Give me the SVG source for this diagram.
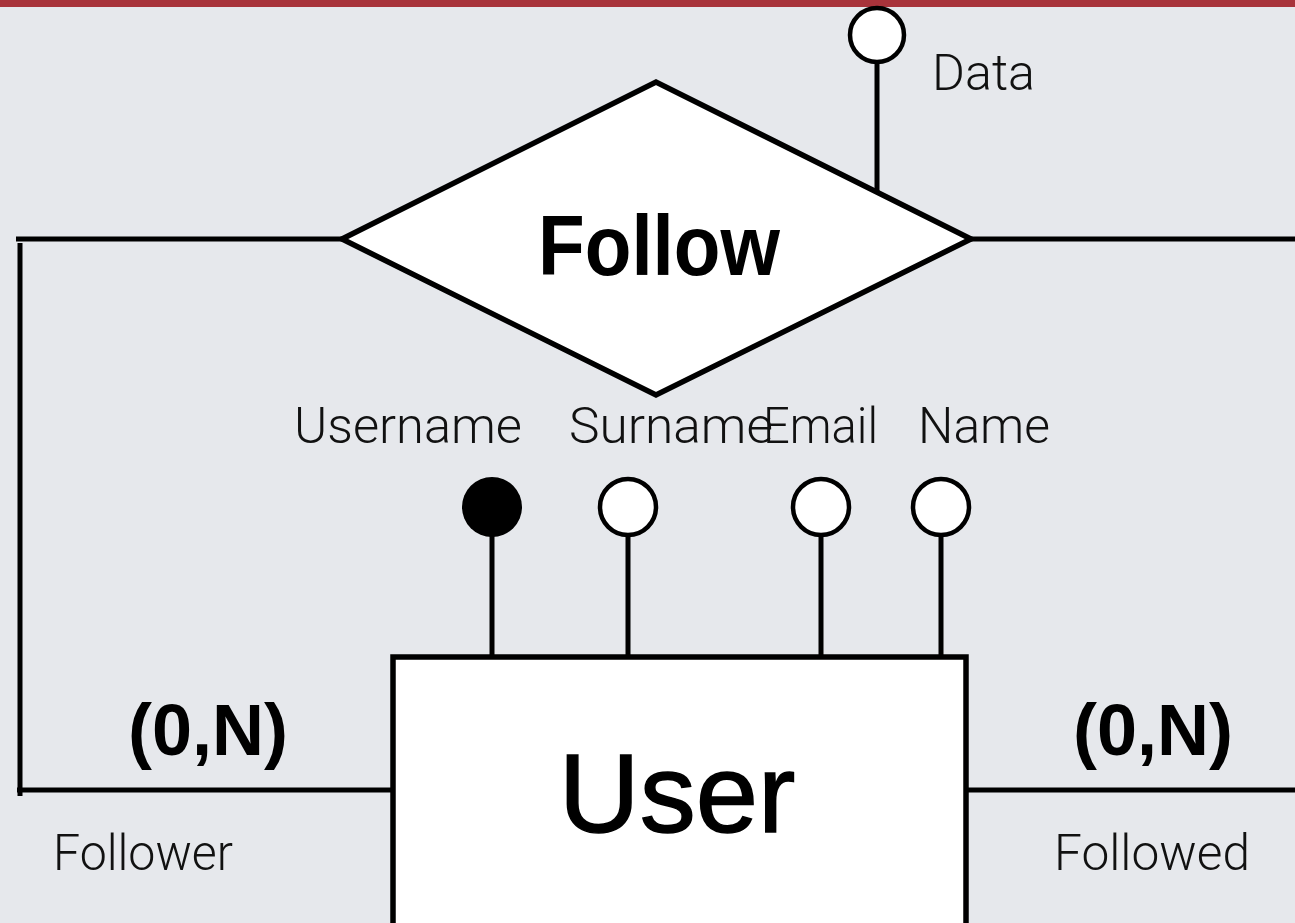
<svg xmlns="http://www.w3.org/2000/svg" width="1295" height="923" viewBox="0 0 1295 923">
  <style>
    .ln { stroke: #000; stroke-width: 5; fill: none; }
    .shape { stroke: #000; stroke-width: 5.5; fill: #fff; }
    .attr { stroke: #000; stroke-width: 4.5; fill: #fff; }
    .key { fill: #000; }
    .thin { font-family: Roboto, "Open Sans", "Liberation Sans", sans-serif; font-weight: 300; font-size: 50px; fill: #111; }
    .title { font-family: "Liberation Sans", Arial, sans-serif; fill: #000; }
    .card { font-family: "Liberation Sans", Arial, sans-serif; font-weight: bold; font-size: 72px; fill: #000; }
  </style>

  <!-- backdrop and top band -->
  <rect x="0" y="0" width="1295" height="923" fill="#e6e8ec"/>
  <rect x="0" y="0" width="1295" height="7" fill="#a8333b"/>

  <!-- connectors -->
  <g id="connectors">
    <!-- Follower role: relationship left corner to User left side -->
    <line class="ln" x1="16" y1="239" x2="343" y2="239"/>
    <line class="ln" x1="20" y1="243" x2="20" y2="796"/>
    <line class="ln" x1="17" y1="790" x2="396" y2="790"/>
    <!-- Followed role: relationship right corner to User right side -->
    <line class="ln" x1="969" y1="239" x2="1295" y2="239"/>
    <line class="ln" x1="968" y1="790" x2="1295" y2="790"/>
    <!-- attribute stems -->
    <line class="ln" x1="877" y1="62" x2="877" y2="191"/>
    <line class="ln" x1="492" y1="535" x2="492" y2="662"/>
    <line class="ln" x1="628" y1="535" x2="628" y2="662"/>
    <line class="ln" x1="821" y1="535" x2="821" y2="662"/>
    <line class="ln" x1="941" y1="535" x2="941" y2="662"/>
  </g>

  <!-- relationship: Follow -->
  <g id="follow">
    <polygon class="shape" points="342,239 656,82 971,239 656,395"/>
    <text class="title" x="659" y="275" font-size="86" font-weight="bold" text-anchor="middle" textLength="242" lengthAdjust="spacingAndGlyphs">Follow</text>
  </g>

  <!-- attribute of Follow: Data -->
  <g id="attr-data">
    <circle class="attr" cx="877" cy="35" r="27"/>
    <text class="thin" x="932" y="90" textLength="103" lengthAdjust="spacingAndGlyphs">Data</text>
  </g>

  <!-- entity: User -->
  <g id="user">
    <rect class="shape" x="393" y="657" width="573" height="280"/>
    <text class="title" x="677" y="832" font-size="112" text-anchor="middle" stroke="#000" stroke-width="1.5">User</text>
  </g>

  <!-- User attributes -->
  <g id="attr-username">
    <circle class="key" cx="492" cy="507" r="30"/>
    <text class="thin" x="294" y="443" textLength="228" lengthAdjust="spacingAndGlyphs">Username</text>
  </g>
  <g id="attr-surname">
    <circle class="attr" cx="628" cy="507" r="28"/>
    <text class="thin" x="569" y="443" textLength="204" lengthAdjust="spacingAndGlyphs">Surname</text>
  </g>
  <g id="attr-email">
    <circle class="attr" cx="821" cy="507" r="28"/>
    <text class="thin" x="763" y="443" textLength="115" lengthAdjust="spacingAndGlyphs">Email</text>
  </g>
  <g id="attr-name">
    <circle class="attr" cx="941" cy="507" r="28"/>
    <text class="thin" x="918" y="443" textLength="132" lengthAdjust="spacingAndGlyphs">Name</text>
  </g>

  <!-- cardinalities and role names -->
  <g id="role-follower">
    <text class="card" x="208" y="755" text-anchor="middle" textLength="160" lengthAdjust="spacingAndGlyphs">(0,N)</text>
    <text class="thin" x="53" y="870" textLength="180" lengthAdjust="spacingAndGlyphs">Follower</text>
  </g>
  <g id="role-followed">
    <text class="card" x="1153" y="755" text-anchor="middle" textLength="160" lengthAdjust="spacingAndGlyphs">(0,N)</text>
    <text class="thin" x="1054" y="870" textLength="196" lengthAdjust="spacingAndGlyphs">Followed</text>
  </g>
</svg>
